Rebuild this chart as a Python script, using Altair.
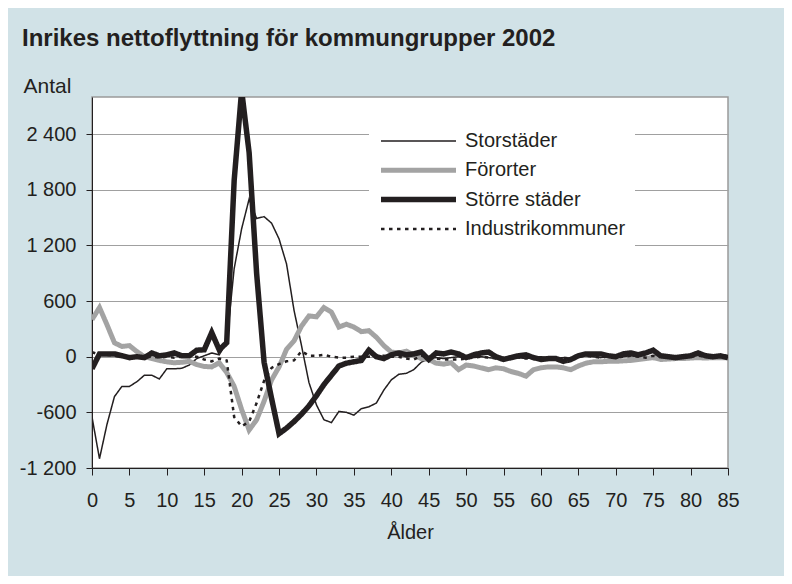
import altair as alt
import pandas as pd

ages = list(range(0, 86))

series = ["Storstäder", "Förorter", "Större städer", "Industrikommuner"]

storstader = [-650, -1100, -730, -430, -320, -320, -270, -200, -200, -240,
              -130, -130, -125, -90, -20, 10, 40, 20, 150, 950,
              1380, 1700, 1490, 1510, 1440, 1270, 1000, 500, 120, -280,
              -520, -680, -710, -590, -600, -630, -560, -540, -500, -360,
              -250, -190, -180, -140, -60, -20, -10, -20, -10, 0,
              -20, -10, 0, -10, -20, -10, 0, -10, -20, -10,
              0, -10, -20, -10, -20, 0, 10, 0, -10, 0,
              -10, 0, 10, 0, -10, 10, 0, -10, 0, -10,
              0, 10, 0, -10, 0, -10]

fororter = [400, 530, 345, 150, 110, 120, 55, 0, -20, -40,
            -55, -65, -60, -50, -85, -105, -110, -65, -170, -320,
            -570, -790, -680, -480, -250, -110, 80, 170, 330, 440,
            430, 530, 480, 320, 350, 320, 270, 280, 210, 120,
            50, 40, 60, 20, -20, -30, -70, -80, -65, -140,
            -90, -100, -120, -140, -120, -130, -160, -180, -210, -140,
            -120, -110, -110, -120, -140, -100, -70, -55, -55, -50,
            -50, -45, -40, -30, -20, -10, -30, -25, -20, -20,
            -15, -10, -15, -10, -10, -10]

storre_stader = [-130, 30, 30, 30, 10, -10, 0, -10, 40, 10,
                 20, 40, 10, 10, 70, 75, 260, 75, 150, 1900,
                 2870, 2200, 900, -60, -450, -830, -770, -700, -620, -530,
                 -420, -300, -200, -100, -70, -55, -40, 70, 0, -20,
                 20, 40, 20, 30, 50, -30, 40, 30, 50, 30,
                 -10, 20, 40, 50, 0, -30, -10, 10, 20, -10,
                 -30, -20, -20, -50, -30, 10, 30, 30, 30, 10,
                 0, 30, 40, 20, 40, 70, 10, 0, -10, 0,
                 10, 40, 10, 0, 10, -10]

industrikommuner = [50, 20, 20, 10, 0, -10, 0, -10, 0, -10,
                    0, -10, 0, 0, 0, -30, -50, -20, -40, -650,
                    -750, -700, -500, -260, -120, -80, -50, -40, 60, 10,
                    10, 20, 0, -10, -10, 0, 0, 0, 10, 10,
                    0, 0, -20, -30, 10, 0, -20, -30, -30, -30,
                    -20, -10, 0, -10, -20, -10, 0, -10, -20, -10,
                    -20, -10, -20, -10, -20, 0, 10, 0, -10, 0,
                    -10, 0, 10, 0, -10, 10, 0, -10, 0, -10,
                    0, 10, 0, -10, 0, -10]

y_ticks = [-1200, -600, 0, 600, 1200, 1800, 2400]
x_ticks = list(range(0, 86, 5))

colors = ["#231f20", "#a3a3a3", "#231f20", "#231f20"]
widths = [1.5, 5, 5.5, 2.5]
dashes = [[1, 0], [1, 0], [1, 0], [3.5, 4.5]]

values = [storstader, fororter, storre_stader, industrikommuner]
rows = []
for name, vals in zip(series, values):
    for a, v in zip(ages, vals):
        rows.append({"Ålder": a, "Antal": v, "serie": name})
df = pd.DataFrame(rows)

FONT = "Liberation Sans"
TXT = "#231f20"

legend = alt.Legend(
    orient="none", legendX=277, legendY=25, title=None,
    symbolType="stroke", symbolSize=5625, clipHeight=20, rowPadding=9.3,
    labelFontSize=20, labelFont=FONT, labelColor=TXT, labelOffset=6,
    labelLimit=400, fillColor="white", padding=9, symbolOpacity=1,
)

base = alt.Chart(df).mark_line(clip=True).encode(
    x=alt.X("Ålder:Q",
            scale=alt.Scale(domain=[0, 85], nice=False, zero=False),
            axis=alt.Axis(values=x_ticks, title="Ålder", grid=False,
                          tickSize=7, labelPadding=15, titlePadding=12,
                          labelFlush=False)),
    y=alt.Y("Antal:Q",
            scale=alt.Scale(domain=[-1200, 2800], nice=False, zero=False),
            axis=alt.Axis(values=y_ticks, title="Antal", grid=True,
                          tickSize=6, labelPadding=10, labelFlush=False,
                          labelExpr="(datum.value < 0 ? '-' : '') + replace(format(abs(datum.value), ','), ',', ' ')",
                          titleAngle=0, titleAlign="left", titleBaseline="alphabetic",
                          titleX=-69, titleY=-5, titleFontSize=21,
                          titleFontWeight="normal")),
    color=alt.Color("serie:N", scale=alt.Scale(domain=series, range=colors), legend=legend),
    strokeWidth=alt.StrokeWidth("serie:N", scale=alt.Scale(type="ordinal", domain=series, range=widths), legend=legend),
    strokeDash=alt.StrokeDash("serie:N", scale=alt.Scale(domain=series, range=dashes), legend=legend),
)

layers = [base.transform_filter(alt.datum.serie == s) for s in series]

chart = alt.layer(*layers).properties(
    width=636, height=371,
    title=alt.TitleParams(
        "Inrikes nettoflyttning för kommungrupper 2002",
        anchor="start", frame="group", dx=-70, offset=5,
        fontSize=24, fontWeight="bold", font=FONT, color=TXT,
        baseline="alphabetic",
    ),
    autosize=alt.AutoSizeParams(type="none"),
    padding={"left": 84, "top": 89, "right": 56, "bottom": 108},
).configure(
    background="#d1e2e7",
).configure_view(
    fill="white", stroke="#9a9a9a", strokeWidth=1.5,
).configure_axis(
    labelFont=FONT, titleFont=FONT, labelFontSize=20, titleFontSize=20,
    labelColor=TXT, titleColor=TXT, domainColor=TXT, tickColor=TXT,
    domainWidth=1, tickWidth=1, gridColor="#a0a0a0", gridWidth=1,
    titleFontWeight="normal",
)

chart.save("out.html", embed_options={"renderer": "svg", "actions": False})
